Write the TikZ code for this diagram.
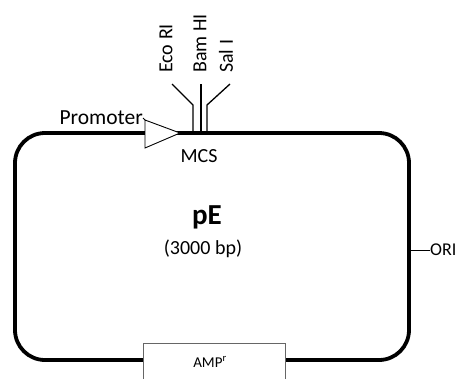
\documentclass[tikz,border=0pt]{standalone}
\usepackage{fontspec}
\setmainfont{Carlito}
\begin{document}
\begin{tikzpicture}[x=1pt,y=-1pt,
  plasmid/.style={line width=3.8pt, rounded corners=30pt},
  lbl/.style={font=\fontsize{20}{22}\selectfont, inner sep=0pt},
  small/.style={font=\fontsize{18}{20}\selectfont, inner sep=0pt},
  site/.style={line width=1.3pt},
  thin/.style={line width=1pt},
  ampbox/.style={draw=black!60, line width=0.8pt, fill=white, inner sep=0pt, anchor=north west}]
\useasboundingbox (0,0) rectangle (462,378);
\clip (0,0) rectangle (462,378);
% plasmid backbone
\draw[plasmid] (15,133) rectangle (409,360);
% promoter
\coordinate (pa) at (145,120);
\coordinate (pb) at (180,133);
\coordinate (pc) at (145,148);
\filldraw[fill=white, draw=black, line width=0.9pt] (pa) -- (pb) -- (pc) -- cycle;
\node[font=\fontsize{21.5}{23}\selectfont, inner sep=0pt, anchor=east] (prom) at (143,118) {Promoter};
\draw[thin] (prom.east) -- (pa);
% MCS sites
\coordinate (e0) at (193,133); \coordinate (e1) at (193,105);
\coordinate (b0) at (201,133);
\coordinate (s0) at (207,133); \coordinate (s1) at (207,105);
\node[lbl, rotate=90, anchor=west] (eco) at (166,73) {Eco RI};
\node[lbl, rotate=90, anchor=west] (bam) at (200,73) {Bam HI};
\node[lbl, rotate=90, anchor=west] (sal) at (226,73) {Sal I};
\coordinate (e2) at (172,84);
\coordinate (b2) at (201,84);
\coordinate (s2) at (230,84);
\draw[site] (e0) -- (e1) -- (e2);
\draw[site] (b0) -- (b2);
\draw[site] (s0) -- (s1) -- (s2);
\node[lbl] (mcs) at (199,156) {MCS};
% centre labels
\node[font=\fontsize{29}{32}\selectfont\bfseries, inner sep=0pt] (pe) at (207,217) {pE};
\node[lbl] (bp) at (203,249) {(3000 bp)};
% ORI
\coordinate (ori0) at (409,250);
\node[small, anchor=west] (ori) at (430,250) {ORI};
\draw[thin] (ori0) -- (ori.west);
% AMP box
\node[ampbox, minimum width=142pt, minimum height=60pt] (amp) at (143,343) {};
\node[font=\fontsize{15}{17}\selectfont, inner sep=0pt] (amptxt) at (210,362) {AMP\textsuperscript{r}};
\end{tikzpicture}
\end{document}
